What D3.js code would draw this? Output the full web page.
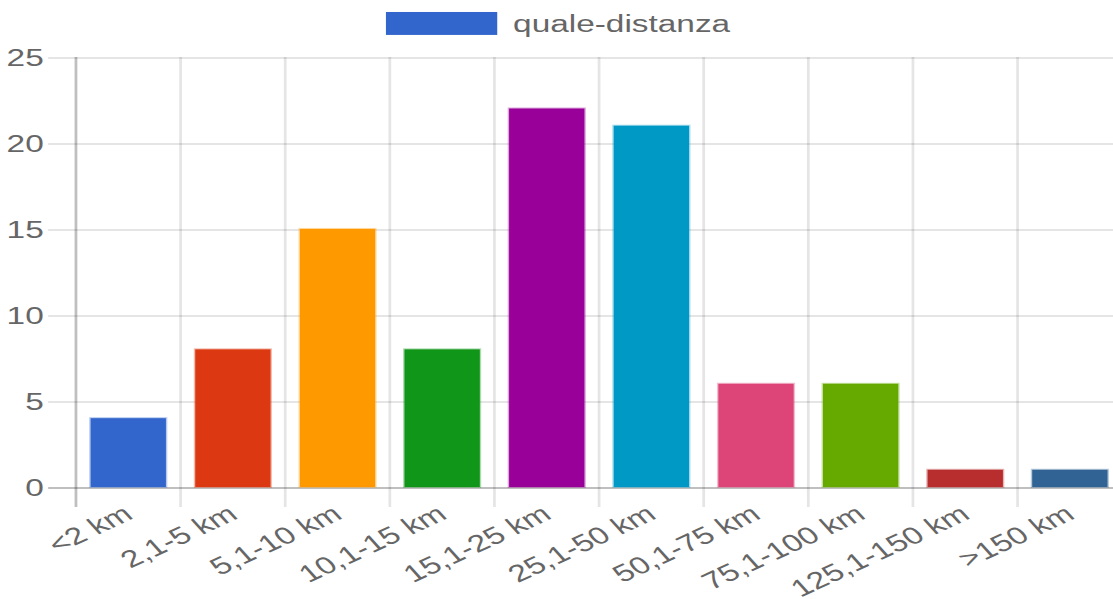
<!DOCTYPE html>
<html>
<head>
<meta charset="utf-8">
<script src="https://cdn.jsdelivr.net/npm/d3@7"></script>
<style>
  html, body { margin: 0; padding: 0; background: #fff; overflow: hidden; }
  svg { display: block; }
  text { font-family: "Liberation Sans", Arial, Helvetica, sans-serif; fill: #666; }
</style>
</head>
<body>
<div id="chart"></div>
<script>
// data
var categories = ['<2 km', '2,1-5 km', '5,1-10 km', '10,1-15 km', '15,1-25 km',
    '25,1-50 km', '50,1-75 km', '75,1-100 km', '125,1-150 km', '>150 km'];
var values = [4, 8, 15, 8, 22, 21, 6, 6, 1, 1];
var barColors = ['#3366cc', '#dc3912', '#ff9900', '#109618', '#990099',
    '#0099c6', '#dd4477', '#66aa00', '#b82e2e', '#316395'];
var yTicks = [0, 5, 10, 15, 20, 25];
var seriesName = 'quale-distanza';

// the original canvas is 400x300 and stretched to the window
var nativeW = 400, nativeH = 300;
var svg = d3.select('#chart').append('svg')
    .attr('width', 1113)
    .attr('height', 599)
    .attr('viewBox', '0 0 ' + nativeW + ' ' + nativeH)
    .attr('preserveAspectRatio', 'none');

var plot = {l: 27.3, t: 28.5, b: 243.9, step: 37.6};
var plotRight = plot.l + plot.step * categories.length;

var xScale = d3.scaleBand().domain(categories).range([plot.l, plotRight])
    .paddingInner(0.28).paddingOuter(0.14);
var xGrid = d3.scaleBand().domain(categories).range([plot.l, plotRight]);
var yScale = d3.scaleLinear().domain([0, 25]).range([plot.b, plot.t]);

// horizontal grid + y labels
var yAxis = svg.append('g')
    .attr('transform', 'translate(' + (plot.l - 10) + ',0)')
    .call(d3.axisLeft(yScale).tickValues(yTicks)
        .tickSizeInner(-(plotRight - plot.l + 10)).tickSizeOuter(0).tickPadding(1.6));
yAxis.select('.domain').remove();
yAxis.selectAll('line')
    .attr('stroke', function(d) { return d === 0 ? 'rgba(0,0,0,0.25)' : 'rgba(0,0,0,0.1)'; })
    .attr('stroke-width', 1);
yAxis.selectAll('text')
    .style('font-size', '12px')
    .attr('fill', '#666');

// vertical grid lines
var gridX = d3.range(categories.length).map(function(i) { return xGrid(categories[i]); });
svg.append('g').selectAll('line')
    .data(gridX)
    .enter()
    .append('line')
    .attr('x1', function(d) { return d; })
    .attr('x2', function(d) { return d; })
    .attr('y1', plot.t)
    .attr('y2', plot.b + 10)
    .attr('stroke', function(d, i) { return i === 0 ? 'rgba(0,0,0,0.25)' : 'rgba(0,0,0,0.1)'; })
    .attr('stroke-width', 1);

// bars
svg.append('g').selectAll('rect')
    .data(values)
    .enter()
    .append('rect')
    .attr('x', function(d, i) { return xScale(categories[i]); })
    .attr('y', function(d) { return yScale(d); })
    .attr('width', xScale.bandwidth())
    .attr('height', function(d) { return yScale(0) - yScale(d); })
    .attr('fill', function(d, i) { return barColors[i]; })
    .attr('stroke', function(d, i) { return barColors[i]; })
    .attr('stroke-opacity', 0.35)
    .attr('stroke-width', 1);

// x labels, rotated
svg.append('g').selectAll('text')
    .data(categories)
    .enter()
    .append('text')
    .attr('transform', function(d) {
        return 'translate(' + (xGrid(d) + xGrid.bandwidth() / 2) + ',' + (plot.b + 12) + ') rotate(-33)';
    })
    .attr('text-anchor', 'end')
    .attr('dy', '0.35em')
    .style('font-size', '12px')
    .text(function(d) { return d; });

// legend
var leg = svg.append('g');
leg.append('rect')
    .attr('x', 138.7)
    .attr('y', 6)
    .attr('width', 40)
    .attr('height', 11.5)
    .attr('fill', barColors[0]);
leg.append('text')
    .attr('x', 184.4)
    .attr('y', 11.8)
    .attr('dy', '0.35em')
    .style('font-size', '12px')
    .text(seriesName);
</script>
</body>
</html>
